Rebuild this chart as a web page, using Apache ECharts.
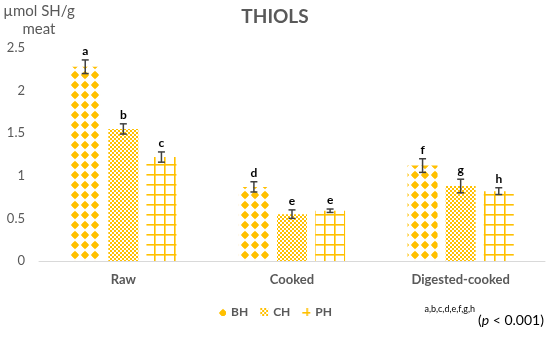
<!DOCTYPE html>
<html>
<head>
<meta charset="utf-8">
<script src="https://cdn.jsdelivr.net/npm/echarts@6/dist/echarts.min.js"></script>
<style>html,body{margin:0;padding:0;background:#fff;}#c{width:550px;height:339px;}</style>
</head>
<body>
<div id="c"></div>
<script>
const categories = ['Raw', 'Cooked', 'Digested-cooked'];
const seriesNames = ['BH', 'CH', 'PH'];
const bhValues = [2.28, 0.87, 1.12];
const chValues = [1.55, 0.55, 0.88];
const phValues = [1.22, 0.59, 0.82];
const bhErrors = [0.08, 0.06, 0.08];
const chErrors = [0.06, 0.05, 0.08];
const phErrors = [0.06, 0.02, 0.04];
const bhLetters = ['a', 'd', 'f'];
const chLetters = ['b', 'e', 'g'];
const phLetters = ['c', 'e', 'h'];
const yTicks = [0, 0.5, 1, 1.5, 2, 2.5];

const ORANGE = '#FFC000';
const FONT = 'Lato, "Open Sans", sans-serif';

function makeCanvas(w, h, draw) {
  const c = document.createElement('canvas');
  c.width = w; c.height = h;
  const ctx = c.getContext('2d');
  ctx.fillStyle = '#fff';
  ctx.fillRect(0, 0, w, h);
  draw(ctx);
  return c;
}
const bhPattern = makeCanvas(10, 10, ctx => {
  ctx.fillStyle = ORANGE;
  const cx = 5, cy = 5;
  ctx.beginPath();
  ctx.moveTo(cx - 4.2, cy); ctx.lineTo(cx, cy - 4.2); ctx.lineTo(cx + 4.2, cy); ctx.lineTo(cx, cy + 4.2); ctx.closePath();
  ctx.fill();
  ctx.beginPath(); ctx.arc(cx, cy, 2.8, 0, Math.PI * 2); ctx.fill();
});
const chPattern = makeCanvas(4, 4, ctx => {
  ctx.fillStyle = ORANGE;
  ctx.fillRect(0, 0, 2, 2);
  ctx.fillRect(2, 2, 2, 2);
});
const phPattern = makeCanvas(10, 10, ctx => {
  ctx.fillStyle = ORANGE;
  ctx.fillRect(4, 0, 1.6, 10);
  ctx.fillRect(0, 4, 10, 1.6);
});
const patterns = [bhPattern, chPattern, phPattern];
const valueSets = [bhValues, chValues, phValues];
const errorSets = [bhErrors, chErrors, phErrors];
const letterSets = [bhLetters, chLetters, phLetters];

const BAR_W = 30;
const BAR_GAP = 0.27;
const step = BAR_W * (1 + BAR_GAP);

const series = [];
seriesNames.forEach((n, i) => {
  series.push({
    name: n,
    type: 'bar',
    barWidth: BAR_W,
    barGap: (BAR_GAP * 100) + '%',
    itemStyle: { color: { image: patterns[i], repeat: 'repeat' } },
    data: valueSets[i]
  });
});
seriesNames.forEach((n, i) => {
  series.push({
    type: 'custom',
    silent: true,
    z: 5,
    data: valueSets[i].map((v, k) => [k, v, errorSets[i][k], letterSets[i][k]]),
    renderItem: function (params, api) {
      const x = api.coord([api.value(0), 0])[0] + (i - 1) * step;
      const v = api.value(1), e = api.value(2);
      const yTop = api.coord([0, v + e])[1];
      const yBot = api.coord([0, v - e])[1];
      const cap = 3.5;
      const st = { stroke: '#404040', lineWidth: 1.5 };
      return {
        type: 'group',
        children: [
          { type: 'line', shape: { x1: x, y1: yTop, x2: x, y2: yBot }, style: st },
          { type: 'line', shape: { x1: x - cap, y1: yTop, x2: x + cap, y2: yTop }, style: st },
          { type: 'line', shape: { x1: x - cap, y1: yBot, x2: x + cap, y2: yBot }, style: st },
          { type: 'text', style: { x: x, y: yTop - 3, text: letterSets[i][params.dataIndex], align: 'center', verticalAlign: 'bottom', font: 'bold 12px ' + FONT, fill: '#000' } }
        ]
      };
    }
  });
});

const chart = echarts.init(document.getElementById('c'));
chart.setOption({
  animation: false,
  backgroundColor: '#fff',
  title: {
    text: 'THIOLS', left: 'center', top: 2,
    textStyle: { fontFamily: FONT, fontWeight: 'bold', fontSize: 19, color: '#595959' }
  },
  grid: { left: 39, right: 5, top: 48, bottom: 78 },
  legend: {
    data: seriesNames, bottom: 16, left: 'center',
    itemWidth: 8, itemHeight: 8, itemGap: 12,
    icon: 'rect',
    textStyle: { fontFamily: FONT, fontWeight: 'bold', fontSize: 12, color: '#595959' }
  },
  xAxis: {
    type: 'category', data: categories,
    axisLine: { lineStyle: { color: '#d9d9d9', width: 1 } },
    axisTick: { show: false },
    axisLabel: { fontFamily: FONT, fontWeight: 'bold', fontSize: 13, color: '#595959', margin: 12 }
  },
  yAxis: {
    type: 'value', min: yTicks[0], max: yTicks[yTicks.length - 1], interval: yTicks[1] - yTicks[0],
    name: 'µmol SH/g\nmeat', nameLocation: 'end', nameGap: 10,
    nameTextStyle: { fontFamily: FONT, fontSize: 15, color: '#595959', lineHeight: 18, align: 'center' },
    splitLine: { show: false },
    axisLine: { show: false },
    axisTick: { show: false },
    axisLabel: { fontFamily: FONT, fontSize: 13, color: '#595959', margin: 14 }
  },
  graphic: [
    { type: 'text', right: 75, top: 305, style: { text: 'a,b,c,d,e,f,g,h', font: '9px ' + FONT, fill: '#000' } },
    { type: 'text', left: 478, top: 313, style: { text: '({i|p} < 0.001)', font: '14px ' + FONT, fill: '#000',
      rich: { i: { fontStyle: 'italic', fontSize: 14, fontFamily: FONT, fill: '#000' } } } }
  ],
  series: series
});
</script>
</body>
</html>
